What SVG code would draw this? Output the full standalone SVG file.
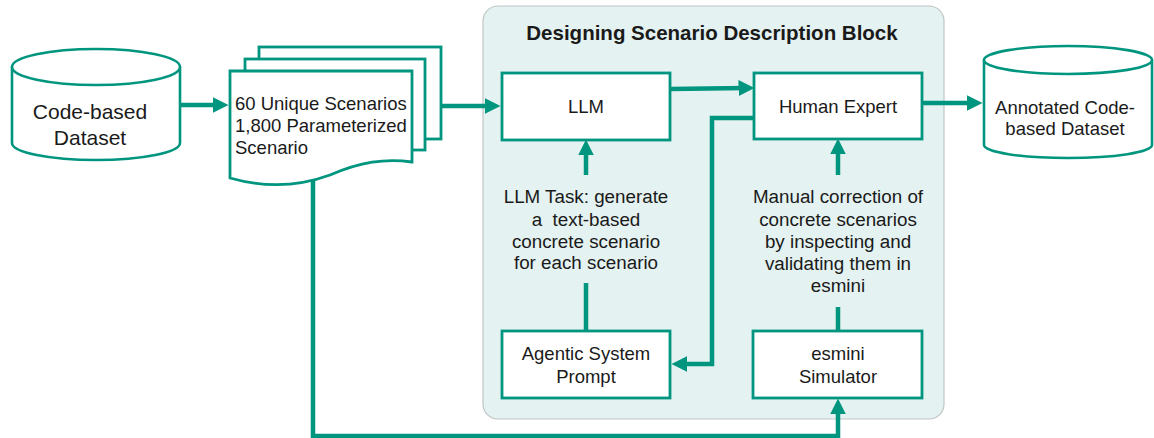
<svg xmlns="http://www.w3.org/2000/svg" width="1154" height="438" viewBox="0 0 1154 438">
<style>
.box{fill:#fff;stroke:#00957F;stroke-width:2.8}
.cyl{fill:#fff;stroke:#00957F;stroke-width:2.6}
.con{fill:none;stroke:#00957F;stroke-width:4.5}
text{font-family:"Liberation Sans",Arial,sans-serif;font-size:18.5px;fill:#1a1a1a;text-anchor:middle}
.lbl{font-size:18.8px}
</style>
<defs>
<marker id="ah" markerUnits="userSpaceOnUse" markerWidth="16" markerHeight="16" viewBox="0 0 15 15" refX="7" refY="7.5" orient="auto">
<path d="M0,0 L15,7.5 L0,15 z" fill="#00957F"/>
</marker>
</defs>
<rect width="1154" height="438" fill="#fff"/>
<g id="panel">
<rect x="483" y="6" width="461" height="413" rx="15" fill="#E4F2F1" stroke="#BFC6C5" stroke-width="1.2"/>
<text x="712" y="40" style="font-weight:bold;font-size:20.5px">Designing Scenario Description Block</text>
</g>
<g id="connectors">
<line class="con" x1="180" y1="105" x2="220" y2="105" marker-end="url(#ah)"/>
<line class="con" x1="441" y1="106" x2="492" y2="106" marker-end="url(#ah)"/>
<line class="con" x1="670" y1="89" x2="746" y2="88" marker-end="url(#ah)"/>
<line class="con" x1="922" y1="103" x2="974" y2="103" marker-end="url(#ah)"/>
<polyline class="con" points="754,118 712,118 712,364 680,364" marker-end="url(#ah)"/>
<line class="con" x1="586" y1="331" x2="586" y2="283"/>
<line class="con" x1="586" y1="175" x2="586" y2="148" marker-end="url(#ah)"/>
<line class="con" x1="838" y1="331" x2="838" y2="307"/>
<line class="con" x1="838" y1="175" x2="838" y2="147" marker-end="url(#ah)"/>
<polyline class="con" points="313,181 313,436 838,436 838,407" marker-end="url(#ah)"/>
</g>
<g id="code-dataset">
<path class="cyl" d="M12,67 A84,18 0 0 1 180,67 V143 A84,17 0 0 1 12,143 Z"/>
<path class="cyl" d="M12,67 A84,18 0 0 0 180,67"/>
<text x="90" y="119" style="font-size:21px">Code-based</text>
<text x="90" y="145" style="font-size:21px">Dataset</text>
</g>
<g id="scenarios">
<rect class="box" x="259" y="47" width="182" height="92"/>
<rect class="box" x="245" y="59" width="180" height="91"/>
<path class="box" d="M230,71 H412 V162 C385,158 360,162 330,175 C300,186 265,188 230,178 Z"/>
<text x="235" y="110" style="text-anchor:start">60 Unique Scenarios</text>
<text x="235" y="132" style="text-anchor:start">1,800 Parameterized</text>
<text x="235" y="154" style="text-anchor:start">Scenario</text>
</g>
<g id="llm">
<rect class="box" x="502" y="73" width="168" height="67"/>
<text x="586" y="113">LLM</text>
</g>
<g id="human-expert">
<rect class="box" x="754" y="73" width="168" height="66"/>
<text x="838" y="113">Human Expert</text>
</g>
<g id="annotated-dataset">
<path class="cyl" d="M984,60 A84,14 0 0 1 1152,60 V145 A84,13 0 0 1 984,145 Z"/>
<path class="cyl" d="M984,60 A84,14 0 0 0 1152,60"/>
<text x="1065" y="114">Annotated Code-</text>
<text x="1065" y="135">based Dataset</text>
</g>
<g id="llm-task">
<text class="lbl" x="586" y="203">LLM Task: generate</text>
<text class="lbl" x="586" y="226" xml:space="preserve">a  text-based</text>
<text class="lbl" x="586" y="248">concrete scenario</text>
<text class="lbl" x="586" y="269">for each scenario</text>
</g>
<g id="manual-correction">
<text class="lbl" x="838" y="203">Manual correction of</text>
<text class="lbl" x="838" y="226">concrete scenarios</text>
<text class="lbl" x="838" y="248">by inspecting and</text>
<text class="lbl" x="838" y="270">validating them in</text>
<text class="lbl" x="838" y="292">esmini</text>
</g>
<g id="agentic-prompt">
<rect class="box" x="502" y="331" width="168" height="67"/>
<text x="586" y="360">Agentic System</text>
<text x="586" y="383">Prompt</text>
</g>
<g id="esmini">
<rect class="box" x="753" y="331" width="169" height="67"/>
<text x="838" y="360">esmini</text>
<text x="838" y="383">Simulator</text>
</g>
</svg>
